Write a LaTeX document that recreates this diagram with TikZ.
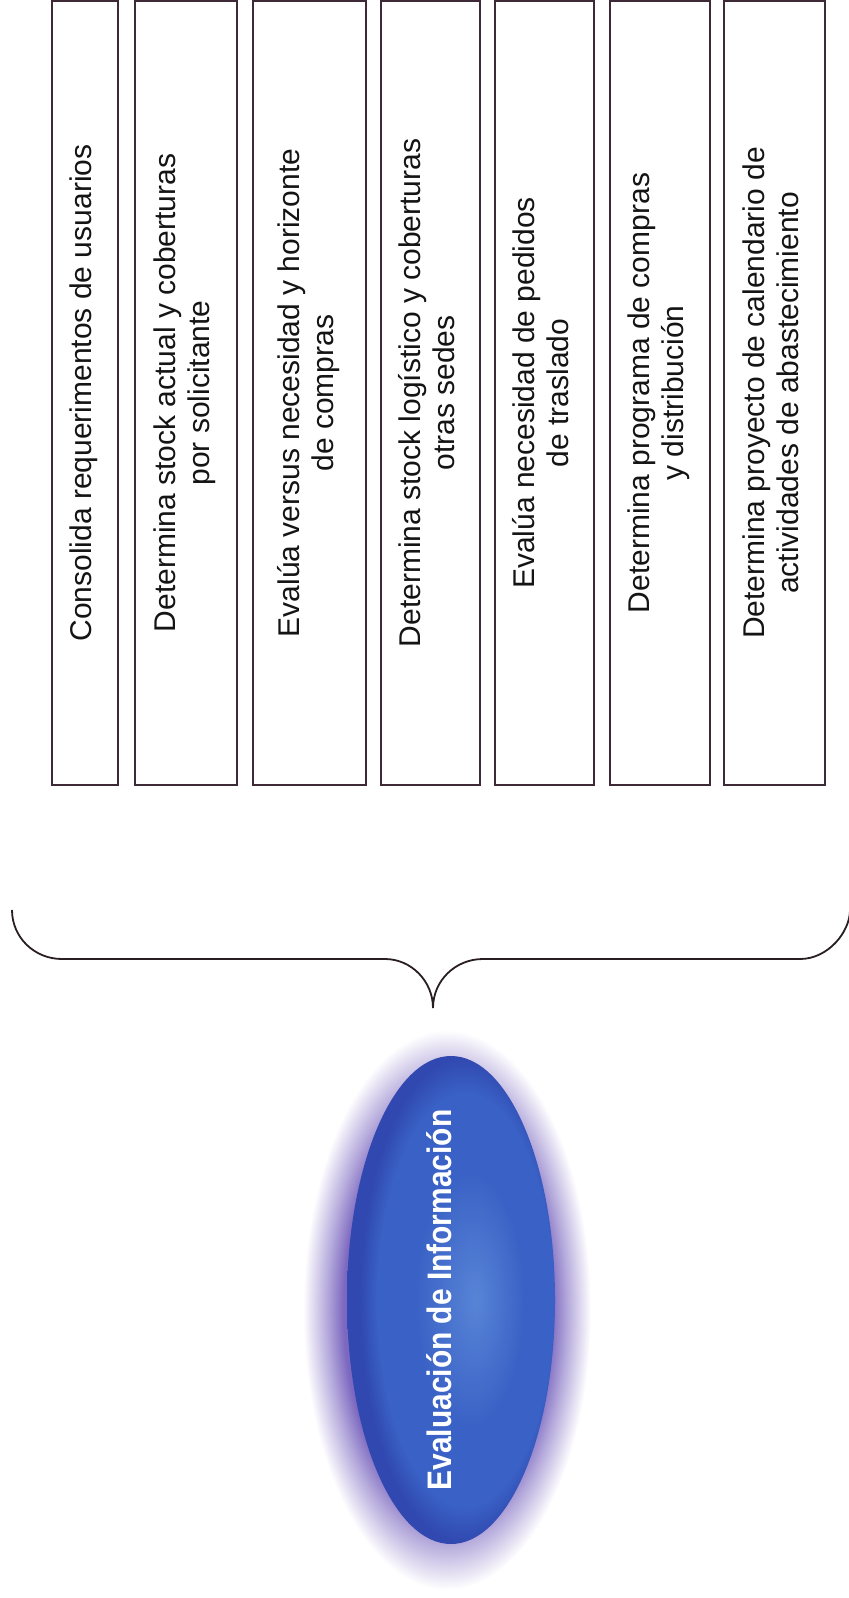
\documentclass[tikz,border=0pt]{standalone}
\usepackage{fontspec}
\setmainfont{Liberation Sans}
\newfontfamily\narrowfont[FakeStretch=0.88]{Liberation Sans}
\usepackage{xcolor}
\usepackage{tikz}
\usetikzlibrary{shapes.geometric, positioning}
\definecolor{boxline}{RGB}{62,42,54}
\definecolor{bracecol}{RGB}{40,30,36}
\definecolor{textcol}{RGB}{20,20,20}
\definecolor{glowcol}{RGB}{124,104,192}
\definecolor{bluelight}{RGB}{88,132,214}
\definecolor{bluemid}{RGB}{58,98,198}
\definecolor{bluedark}{RGB}{48,72,176}
\pgfdeclareradialshading{halo}{\pgfpoint{0bp}{0bp}}{color(0bp)=(glowcol); color(18bp)=(glowcol); color(21bp)=(glowcol!55!white); color(25bp)=(white); color(50bp)=(white)}
\pgfdeclareradialshading{bluebody}{\pgfpoint{6bp}{0bp}}{color(0bp)=(bluelight); color(13bp)=(bluemid); color(21bp)=(bluemid); color(25bp)=(bluedark); color(50bp)=(bluedark)}
\newcommand{\vtext}[1]{\rotatebox{90}{\fontsize{15}{17}\selectfont\begin{tabular}{@{}c@{}}#1\end{tabular}}}

\begin{document}
\begin{tikzpicture}[x=0.5pt, y=-0.5pt,
    stepbox/.style={rectangle, draw=boxline, line width=1.2pt, minimum height=392pt, inner sep=0pt, text=textcol},
    evalnode/.style={ellipse, shading=bluebody, minimum width=104pt, minimum height=244pt, inner sep=0pt},
    evaltext/.style={rotate=90, text=white, font=\narrowfont\bfseries\fontsize{17}{20}\selectfont},
    bracket/.style={draw=bracecol, line width=0.9pt}
]
\useasboundingbox (0,0) rectangle (849,1598);

\node[stepbox, minimum width=33pt] (consolida) at (85,393) {\vtext{Consolida requerimentos de usuarios}};
\node[stepbox, minimum width=51pt] (stock) at (186,393) {\vtext{Determina stock actual y coberturas\\por solicitante}};
\node[stepbox, minimum width=56.5pt] (versus) at (309.5,393) {\vtext{Evalúa versus necesidad y horizonte\\de compras}};
\node[stepbox, minimum width=49.5pt] (logistico) at (430.5,393) {\vtext{Determina stock logístico y coberturas\\otras sedes}};
\node[stepbox, minimum width=49.5pt] (traslado) at (544.5,393) {\vtext{Evalúa necesidad de pedidos\\de traslado}};
\node[stepbox, minimum width=50pt] (programa) at (660,393) {\vtext{Determina programa de compras\\y distribución}};
\node[stepbox, minimum width=50.5pt] (calendario) at (774.5,393) {\vtext{Determina proyecto de calendario de\\actividades de abastecimiento}};

% oval with its glow
\coordinate (ec) at (451,1300);
\shade[shading=halo] ([xshift=-2pt, yshift=-5pt]ec) ellipse (72pt and 140pt);
\node[evalnode] (evaluacion) at (ec) {};
\node[evaltext] (evallabel) at ([xshift=-6pt]evaluacion.center) {Evaluación de Información};

% brace
\coordinate (braceL) at (12,910);
\coordinate (braceR) at (850,910);
\coordinate (tip) at (433,1008);
\draw[bracket] (braceL) .. controls (12,937) and (34,959) .. (62,959) -- (385,959)
    .. controls (411,959) and (433,981) .. (tip)
    .. controls (433,981) and (455,959) .. (483,959) -- (800,959)
    .. controls (828,959) and (850,932) .. (braceR);
\end{tikzpicture}
\end{document}
